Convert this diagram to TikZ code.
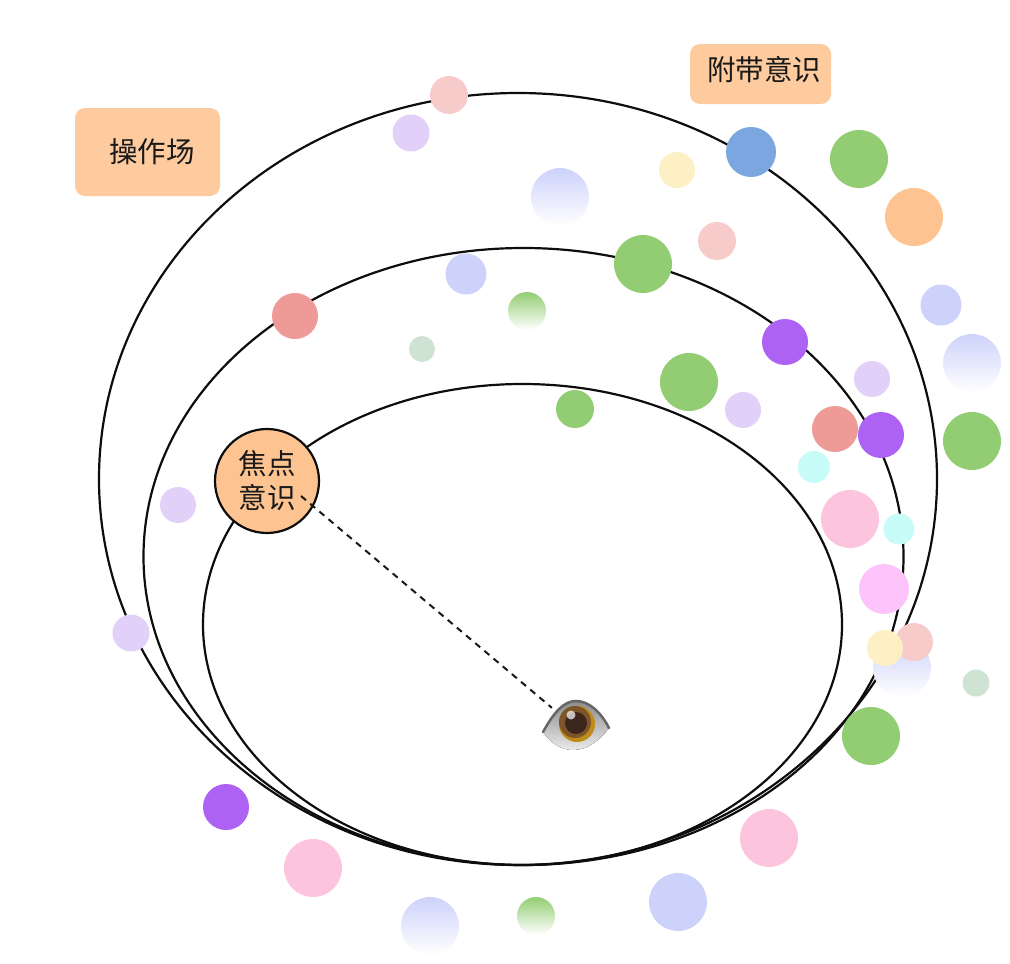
\documentclass[tikz,border=0pt]{standalone}
\usepackage{fontspec}
\newfontfamily\cjk{Noto Sans CJK SC}
\definecolor{tagorange}{HTML}{FDCB9E}
\definecolor{dotgreen}{HTML}{93CD73}
\definecolor{dotblue}{HTML}{7BA6E0}
\definecolor{dotorange}{HTML}{FDC491}
\definecolor{dotred}{HTML}{EE9A97}
\definecolor{dotpurple}{HTML}{AD62F3}
\definecolor{dotrose}{HTML}{F8CBCB}
\definecolor{dotlilac}{HTML}{E3D0F8}
\definecolor{dotcream}{HTML}{FDF0C4}
\definecolor{dotperi}{HTML}{CDD2FA}
\definecolor{dotmint}{HTML}{CFE3D2}
\definecolor{dotcyan}{HTML}{C8FCF8}
\definecolor{dotpink}{HTML}{FCC5DD}
\definecolor{dotmagenta}{HTML}{FDC4FB}
\tikzset{
  dot/.style={circle,inner sep=0pt,outer sep=0pt,minimum size=#1},
  fadedot/.style={circle,inner sep=0pt,outer sep=0pt,minimum size=58pt,top color=#1,bottom color=white},
  orbit/.style={line width=2.2pt,black!95},
  tagbox/.style={rounded corners=10pt,fill=tagorange,inner sep=0pt},
  tagtext/.style={font=\cjk\fontsize{28.5}{33}\selectfont,text=black!90}
}
\begin{document}
\begin{tikzpicture}[x=1pt,y=-1pt]
  \useasboundingbox (0,0) rectangle (1010,964);

  % three orbits
  \draw[orbit] (518,479) ellipse (419 and 386);
  \draw[orbit] (523.5,556.5) ellipse (380 and 308.5);
  \draw[orbit] (522.5,624.5) ellipse (319.5 and 240.5);

  % dots in the upper part
  \node[dot=38pt,fill=dotrose] (rosea) at (449,95) {};
  \node[dot=37pt,fill=dotlilac] (lilaca) at (411,133) {};
  \node[dot=50pt,fill=dotblue] (bluea) at (751,152) {};
  \node[dot=58pt,fill=dotgreen] (greena) at (859,159) {};
  \node[dot=36pt,fill=dotcream] (creama) at (677,170) {};
  \node[fadedot=dotperi] (fadea) at (560,197) {};
  \node[dot=58pt,fill=dotorange] (orangea) at (914,217) {};
  \node[dot=38pt,fill=dotrose] (roseb) at (717,241) {};
  \node[dot=58pt,fill=dotgreen] (greenb) at (643,264) {};
  \node[dot=41pt,fill=dotperi] (peria) at (466,274) {};
  \node[dot=41pt,fill=dotperi] (perib) at (941,305) {};
  \node[dot=38pt,circle,top color=dotgreen,bottom color=white] (fadeb) at (527,311) {};
  \node[dot=46pt,fill=dotred] (reda) at (295,316) {};
  \node[dot=26pt,fill=dotmint] (minta) at (422,349) {};
  \node[dot=46pt,fill=dotpurple] (purplea) at (785,342) {};

  % dots on the right
  \node[fadedot=dotperi] (fadec) at (972,363) {};
  \node[dot=36pt,fill=dotlilac] (lilacb) at (872,379) {};
  \node[dot=58pt,fill=dotgreen] (greenc) at (689,382) {};
  \node[dot=36pt,fill=dotlilac] (lilacc) at (743,410) {};
  \node[dot=38pt,fill=dotgreen] (greend) at (575,409) {};
  \node[dot=46pt,fill=dotred] (redb) at (835,429) {};
  \node[dot=46pt,fill=dotpurple] (purpleb) at (881,435) {};
  \node[dot=58pt,fill=dotgreen] (greene) at (972,441) {};
  \node[dot=32pt,fill=dotcyan] (cyana) at (814,467) {};
  \node[dot=58pt,fill=dotpink] (pinka) at (850,519) {};
  \node[dot=31pt,fill=dotcyan] (cyanb) at (899,529) {};
  \node[dot=50pt,fill=dotmagenta] (magentaa) at (884,589) {};
  \node[fadedot=dotperi] (faded) at (902,668) {};
  \node[dot=38pt,fill=dotrose] (rosec) at (914,642) {};
  \node[dot=36pt,fill=dotcream] (creamb) at (885,648) {};
  \node[dot=27pt,fill=dotmint] (mintb) at (976,683) {};
  \node[dot=58pt,fill=dotgreen] (greenf) at (871,736) {};

  % dots on the left and below
  \node[dot=36pt,fill=dotlilac] (lilacd) at (178,505) {};
  \node[dot=37pt,fill=dotlilac] (lilace) at (131,633) {};
  \node[dot=46pt,fill=dotpurple] (purplec) at (226,807) {};
  \node[dot=58pt,fill=dotpink] (pinkb) at (769,838) {};
  \node[dot=58pt,fill=dotpink] (pinkc) at (313,868) {};
  \node[dot=58pt,fill=dotperi] (peric) at (678,902) {};
  \node[fadedot=dotperi] (fadee) at (430,926) {};
  \node[dot=38pt,circle,top color=dotgreen,bottom color=white] (fadef) at (536,916) {};

  % focus
  \node[circle,draw=black!95,line width=2.2pt,fill=dotorange,minimum size=104pt,inner sep=0pt,
    align=center,font=\cjk\fontsize{28.5}{35}\selectfont,text=black!90] (focus) at (267,481) {焦点\\[-1pt]意识};

  % tags
  \node[tagbox,minimum width=145pt,minimum height=88pt] (fieldbox) at (147.5,152) {};
  \node[tagtext] (fieldtext) at (152,152) {操作场};
  \node[tagbox,minimum width=141pt,minimum height=60pt] (marginbox) at (760.5,74) {};
  \node[tagtext] (margintext) at (764,70) {附带意识};

  % eye
  \coordinate (gaze) at (301,496);
  \node[circle,minimum size=60pt,inner sep=0pt] (eye) at (576,726) {};
  \draw[line width=2pt,dash pattern=on 6.5pt off 5.5pt,black!90] (gaze) -- (eye.143);
  \begin{scope}[shift={(576,726)}]
    \fill[top color=black!45,middle color=black!15,bottom color=black!8]
      (-33,6) .. controls (-22,-14) and (-12,-25) .. (0,-25)
      .. controls (14,-25) and (26,-12) .. (33,2)
      .. controls (24,14) and (12,24) .. (-3,24)
      .. controls (-16,24) and (-26,16) .. (-33,6) -- cycle;
    \draw[line width=2.5pt,black!60,line cap=round] (-33,6) .. controls (-22,-14) and (-12,-25) .. (0,-25)
      .. controls (14,-25) and (26,-12) .. (33,2);
    \fill[color={rgb,255:red,190;green,140;blue,25}] (1,-2) circle (18);
    \fill[color={rgb,255:red,125;green,85;blue,40}] (-1,-4) circle (16);
    \fill[color={rgb,255:red,60;green,38;blue,28}] (0,-3) circle (11);
    \fill[white,opacity=.7] (-5,-11) circle (4.5);
  \end{scope}
\end{tikzpicture}
\end{document}
